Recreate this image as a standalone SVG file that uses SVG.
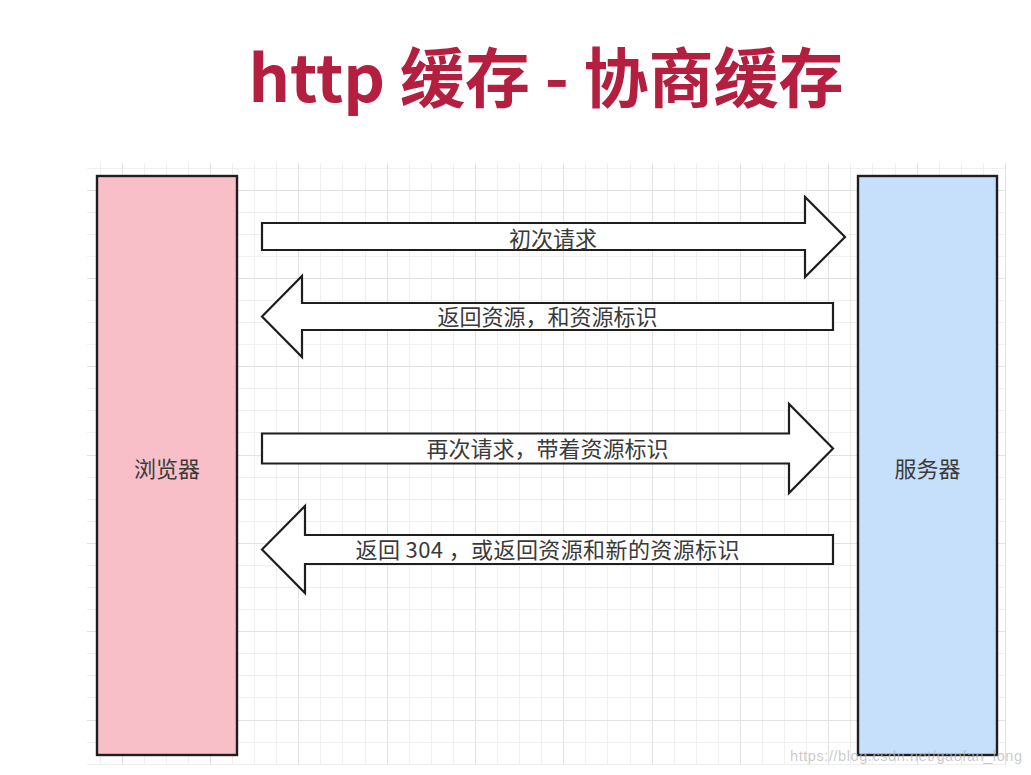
<svg xmlns="http://www.w3.org/2000/svg" width="1031" height="775" viewBox="0 0 1031 775">
<style>
.gthin{fill:none;stroke:#efefef;stroke-width:1}
.gthick{fill:none;stroke:#e2e2e2;stroke-width:1}
.node{stroke:#1e1e1e;stroke-width:2.4}
.arrow{fill:#ffffff;stroke:#1e1e1e;stroke-width:2.2;stroke-linejoin:miter}
.lbl{font-family:"Noto Sans CJK SC","Noto Sans",sans-serif;font-size:22px;fill:#3a3a3a;text-anchor:middle}
.title{font-family:"Noto Sans CJK SC","Noto Sans",sans-serif;font-size:65px;font-weight:bold;fill:#b41f40;text-anchor:middle}
.wm{font-family:"Liberation Sans",Arial,sans-serif;font-size:14.5px;fill:#b8b8b8;fill-opacity:0.75}
</style>
<rect x="0" y="0" width="1031" height="775" fill="#ffffff"/>
<text class="title" x="546" y="102">http 缓存 - 协商缓存</text>
<g id="grid">
<path class="gthin" d="M100.5 163V765M144.5 163V765M166.5 163V765M188.5 163V765M232.5 163V765M254.5 163V765M276.5 163V765M320.5 163V765M342.5 163V765M365.5 163V765M409.5 163V765M431.5 163V765M453.5 163V765M497.5 163V765M519.5 163V765M541.5 163V765M585.5 163V765M607.5 163V765M630.5 163V765M674.5 163V765M696.5 163V765M718.5 163V765M762.5 163V765M784.5 163V765M806.5 163V765M850.5 163V765M872.5 163V765M895.5 163V765M939.5 163V765M961.5 163V765M983.5 163V765
M87 168.5H1006M87 212.5H1006M87 234.5H1006M87 256.5H1006M87 300.5H1006M87 322.5H1006M87 344.5H1006M87 388.5H1006M87 410.5H1006M87 432.5H1006M87 477.5H1006M87 499.5H1006M87 521.5H1006M87 565.5H1006M87 587.5H1006M87 609.5H1006M87 653.5H1006M87 675.5H1006M87 697.5H1006M87 742.5H1006M87 764.5H1006"/>
<path class="gthick" d="M122.5 163V765M210.5 163V765M298.5 163V765M387.5 163V765M475.5 163V765M563.5 163V765M652.5 163V765M740.5 163V765M828.5 163V765M917.5 163V765M1005.5 163V765
M87 190.5H1006M87 278.5H1006M87 366.5H1006M87 455.5H1006M87 543.5H1006M87 631.5H1006M87 720.5H1006"/>
</g>
<g id="browser">
<rect class="node" x="97" y="176" width="140" height="579" fill="#f8bfc8"/>
<text class="lbl" x="167" y="476.5">浏览器</text>
</g>
<g id="server">
<rect class="node" x="858" y="176" width="139" height="579" fill="#c6dffa"/>
<text class="lbl" x="927.5" y="476.5">服务器</text>
</g>
<g id="connectors">
<g id="a1">
<polygon class="arrow" points="262,223 805,223 805,197 845,237 805,277 805,250 262,250"/>
<text class="lbl" x="553" y="246.5">初次请求</text>
</g>
<g id="a2">
<polygon class="arrow" points="262,316.5 302,276 302,303 833,303 833,330 302,330 302,357"/>
<text class="lbl" x="547.5" y="325">返回资源，和资源标识</text>
</g>
<g id="a3">
<polygon class="arrow" points="262,433.5 789,433.5 789,404 833,448.5 789,493 789,463.5 262,463.5"/>
<text class="lbl" x="547.5" y="457">再次请求，带着资源标识</text>
</g>
<g id="a4">
<polygon class="arrow" points="262,549.5 305,506 305,535 833,535 833,564 305,564 305,593"/>
<text class="lbl" x="547.5" y="558" textLength="384">返回 304 ，或返回资源和新的资源标识</text>
</g>
</g>
<text class="wm" x="790" y="761" textLength="232">https://blog.csdn.net/gaofan_long</text>
</svg>
